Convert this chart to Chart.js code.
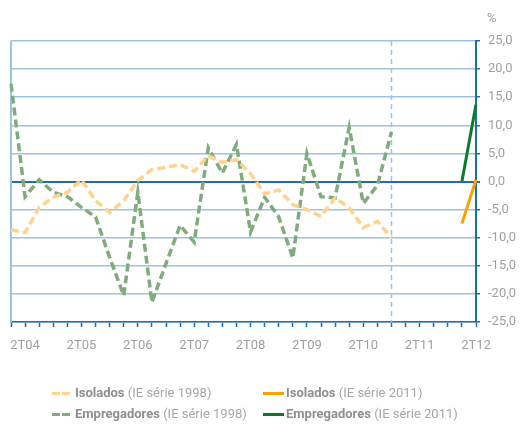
<!DOCTYPE html>
<html>
<head>
<meta charset="utf-8">
<script src="https://cdn.jsdelivr.net/npm/chart.js@4/dist/chart.umd.min.js"></script>
<style>
	html, body { margin: 0; padding: 0; background: #fff; }
	#wrap { position: relative; width: 520px; height: 425px; font-family: Roboto, sans-serif; }
	#chart { position: absolute; left: 0; top: 0; }
	#unit { position: absolute; left: 487px; top: 10px; font-size: 13px; color: #a0a0a0; }
	.item { position: absolute; font-size: 13px; color: #a6a6a6; white-space: nowrap; line-height: 15px; }
	.item b { color: #8f8f8f; }
	.sample { position: absolute; height: 3px; }
</style>
</head>
<body>
<div id="wrap">
	<canvas id="chart" width="520" height="425"></canvas>
	<div id="unit">%</div>
	<div class="sample" style="left:52px;top:392px;width:8px;background:#ffd38c"></div>
	<div class="sample" style="left:62px;top:392px;width:8px;background:#ffd38c"></div>
	<div class="item" style="left:75px;top:385px"><b>Isolados</b> (IE série 1998)</div>
	<div class="sample" style="left:263px;top:392px;width:21px;background:#f5a300"></div>
	<div class="item" style="left:286px;top:385px"><b>Isolados</b> (IE série 2011)</div>
	<div class="sample" style="left:52px;top:413px;width:8px;background:#7fab7d"></div>
	<div class="sample" style="left:62px;top:413px;width:8px;background:#7fab7d"></div>
	<div class="item" style="left:75px;top:406px"><b>Empregadores</b> (IE série 1998)</div>
	<div class="sample" style="left:263px;top:413px;width:21px;background:#0b7a2f"></div>
	<div class="item" style="left:286px;top:406px"><b>Empregadores</b> (IE série 2011)</div>
</div>
<script>
// trimestres 1T04 .. 2T12
const quarters = [
	"1T04", "2T04", "3T04", "4T04", "1T05", "2T05", "3T05", "4T05",
	"1T06", "2T06", "3T06", "4T06", "1T07", "2T07", "3T07", "4T07",
	"1T08", "2T08", "3T08", "4T08", "1T09", "2T09", "3T09", "4T09",
	"1T10", "2T10", "3T10", "4T10", "1T11", "2T11", "3T11", "4T11",
	"1T12", "2T12"
]

// IE série 1998 (1T04 .. 4T10)
const isolados1998 = [-8.6, -9.1, -4.6, -2.8, -1.9, 0.3, -3.4, -5.5, -3.4, 0.2, 2.1, 2.5, 3.0, 1.8,
	4.6, 3.4, 3.9, 1.4, -2.2, -1.5, -4.1, -5.0, -6.2, -2.9, -4.7, -8.2, -7.1, -10.0]
const empregadores1998 = [17.4, -2.7, 0.3, -1.9, -2.7, -4.6, -6.3, -13.5, -20.3, -1.9, -21.5, -14.6, -7.8, -10.8,
	6.0, 1.5, 6.6, -9.0, -2.8, -6.3, -13.6, 5.0, -2.7, -2.9, 9.6, -3.9, -0.7, 8.8]

// IE série 2011
const quarters2011 = ["1T12", "2T12"]
const isolados2011 = [-7.5, 0.3]
const empregadores2011 = [0.0, 13.7]

const yTicks = [-25, -20, -15, -10, -5, 0, 5, 10, 15, 20, 25]
const seriesBreak = "4T10"

const lightBlue = "#9dc3e3"
const darkBlue = "#1b6fab"
const tickGrey = "#a0a0a0"

function pairUp(labels, values) {
	return values.map((v, i) => ({ x: labels[i], y: v }))
}

const extraLines = {
	id: "extraLines",
	beforeDatasetsDraw(chart) {
		let ctx = chart.ctx
		let area = chart.chartArea
		let x = chart.scales.x
		ctx.save()
		ctx.strokeStyle = lightBlue
		ctx.lineWidth = 2
		ctx.beginPath()
		ctx.moveTo(area.left, area.top)
		ctx.lineTo(area.left, area.bottom)
		ctx.stroke()
		let bx = Math.round(x.getPixelForValue(quarters.indexOf(seriesBreak))) + 0.5
		ctx.lineWidth = 1.5
		ctx.setLineDash([5, 4])
		ctx.beginPath()
		ctx.moveTo(bx, area.top)
		ctx.lineTo(bx, area.bottom)
		ctx.stroke()
		ctx.restore()
	}
}

Chart.defaults.font.family = "Roboto, sans-serif"
Chart.defaults.font.size = 13
Chart.defaults.color = tickGrey

new Chart(document.getElementById("chart"), {
	type: "line",
	data: {
		labels: quarters,
		datasets: [{
			label: "Isolados (IE série 1998)",
			data: isolados1998,
			borderColor: "#ffd38c",
			borderWidth: 3.5,
			borderDash: [8, 4],
			pointRadius: 0,
			tension: 0
		}, {
			label: "Empregadores (IE série 1998)",
			data: empregadores1998,
			borderColor: "#7fab7d",
			borderWidth: 3.5,
			borderDash: [8, 4],
			pointRadius: 0,
			tension: 0
		}, {
			label: "Isolados (IE série 2011)",
			data: pairUp(quarters2011, isolados2011),
			borderColor: "#f5a300",
			borderWidth: 3,
			pointRadius: 0
		}, {
			label: "Empregadores (IE série 2011)",
			data: pairUp(quarters2011, empregadores2011),
			borderColor: "#0b7a2f",
			borderWidth: 3,
			pointRadius: 0
		}]
	},
	options: {
		responsive: false,
		animation: false,
		layout: { padding: { left: 11, top: 41, bottom: 73, right: 0 } },
		plugins: { legend: { display: false }, tooltip: { enabled: false } },
		scales: {
			x: {
				offset: false,
				grid: { drawOnChartArea: false, tickColor: darkBlue, tickLength: 5, tickWidth: 1.5 },
				border: { color: darkBlue, width: 1.5 },
				ticks: {
					autoSkip: false,
					maxRotation: 0,
					padding: 11,
					color: tickGrey,
					callback: function(v) {
						let l = this.getLabelForValue(v)
						return l.startsWith("2T") ? l : ""
					}
				},
				afterFit: (s) => { s.height = 30 }
			},
			y: {
				position: "right",
				min: -25,
				max: 25,
				afterBuildTicks: (s) => { s.ticks = yTicks.map(v => ({ value: v })) },
				grid: {
					color: (c) => c.tick && c.tick.value === 0 ? darkBlue : lightBlue,
					lineWidth: (c) => c.tick && c.tick.value === 0 ? 2 : 1.5,
					tickColor: darkBlue,
					tickLength: 4
				},
				border: { color: darkBlue, width: 2 },
				ticks: {
					padding: 8,
					color: tickGrey,
					callback: (v) => v.toFixed(1).replace(".", ",")
				},
				afterFit: (s) => { s.width = 44 }
			}
		}
	},
	plugins: [extraLines]
})
</script>
</body>
</html>
